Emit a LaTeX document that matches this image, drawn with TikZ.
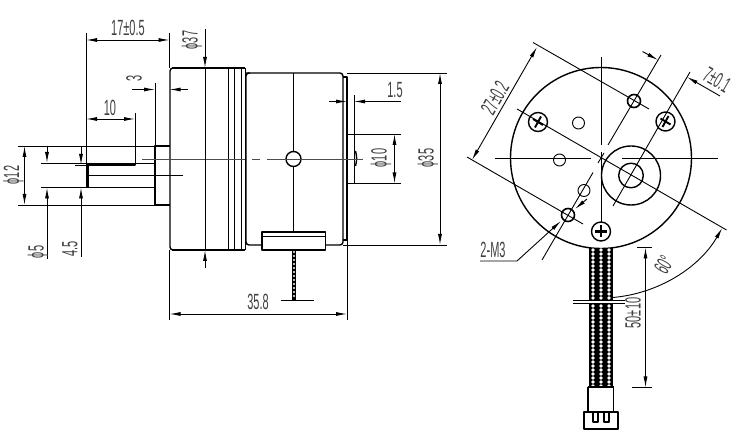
\documentclass[tikz,border=0pt]{standalone}
\usepackage{fontspec}
\setmainfont{Liberation Sans}
\usetikzlibrary{arrows.meta}
\tikzset{
  outl/.style={line width=1.4pt,line join=round},
  thin line/.style={line width=.9pt},
  ctr/.style={line width=.8pt,black!70},
  dim/.style={line width=.9pt,{Latex[length=11pt,width=4pt]}-{Latex[length=11pt,width=4pt]}},
  lead/.style={line width=.9pt,-{Latex[length=11pt,width=4pt]}},
  dimtxt/.style={font=\fontsize{22}{22}\selectfont,xscale=.5,inner sep=0pt,text=black!75},
}
\begin{document}
\begin{tikzpicture}[x=1pt,y=-1pt]
\useasboundingbox (0,0) rectangle (737,446);

% front block
\draw[outl] (172,68) -- (245,68) (172,250) -- (245,250);
\draw[outl,rounded corners=3pt] (175,68) -- (170,68) -- (170,250) -- (175,250);
\draw[thin line] (228,68) -- (228,250) (234,68) -- (234,250) (241,68) -- (241,250) (245,68) -- (245,250);

% flange and shaft
\draw[outl] (169.5,146) -- (155,146) -- (155,205) -- (169.5,205);
\draw[outl] (87,165) -- (135,165) -- (135,163.5) -- (155,163.5);
\draw[outl] (87,187.5) -- (155,187.5);
\draw[line width=2.2pt] (87.5,165) -- (87.5,187.5);

% rear body
\draw[outl,rounded corners=3pt] (246,73) -- (343,73) -- (343,245) -- (325.5,245);
\draw[outl,rounded corners=3pt] (262,245) -- (246,245) -- (246,73) -- (250,73);
\draw[outl] (343,77) -- (347,77) -- (347,240) -- (343,240);
\draw[thin line] (347,134) -- (401,134) (347,183.5) -- (401,183.5);
\draw[thin line] (354,95) -- (354,183.5);
\draw[line width=1.4pt] (355.5,151) to[bend left=15] (355.5,166);

% lead block with wire
\draw[outl] (293.5,73) -- (293.5,151.5) (293.5,166.5) -- (293.5,232);
\draw[outl] (293.5,159) circle (7.5);
\draw[outl] (262,232) rectangle (325.5,250);
\draw[outl] (262,236.5) -- (325.5,236.5);
\draw[line width=4.8pt] (294,250) -- (294,300);
\foreach \y in {252,256,...,298} \fill[white] (294,\y) circle (1.2);
\draw[thin line] (281,300) -- (313.5,300);

% center lines, side view
\draw[ctr] (142,159) -- (237,159) (268,159) -- (363,159);
\draw[ctr,dash pattern=on 8pt off 7pt] (237,159) -- (268,159);
\draw[thin line] (88,175) -- (183,175);

% dimensions, side view
\draw[thin line] (86,33) -- (86,187.5);
\draw[thin line] (169.5,33) -- (169.5,68);
\draw[dim] (86,40) -- (169.5,40);
\node[dimtxt] (lenA) at (128,28) {17±0.5};
\draw[thin line] (155,83) -- (155,146);
\draw[lead] (132,89.5) -- (155,89.5);
\draw[lead] (188,89.5) -- (169.5,89.5);
\node[rotate=90,dimtxt] (lenB) at (134,78) {3};
\draw[thin line] (135,113) -- (135,164);
\draw[dim] (86,119) -- (135,119);
\node[dimtxt] (lenC) at (110,108) {10};
\draw[thin line] (205,68) -- (205,250);
\draw[lead] (205,29) -- (205,68);
\draw[lead] (205,268) -- (205,250);
\node[rotate=90,dimtxt] (diaA) at (192,40) {ϕ37};
\draw[thin line] (18,146) -- (155,146) (18,205) -- (155,205);
\draw[dim] (24.5,146) -- (24.5,205);
\node[rotate=90,dimtxt] (diaB) at (13.5,175) {ϕ12};
\draw[thin line] (41,163) -- (155,163) (41,187.5) -- (88,187.5) (75,165) -- (88,165);
\draw[lead] (47,146) -- (47,163);
\draw[lead] (47,259) -- (47,187.5);
\node[rotate=90,dimtxt] (diaC) at (38,252) {ϕ5};
\draw[lead] (81,147) -- (81,165);
\draw[lead] (81,257) -- (81,187.5);
\node[rotate=90,dimtxt] (lenD) at (70,249) {4.5};
\draw[thin line] (347,73) -- (447,73) (343,245) -- (447,245);
\draw[dim] (440,73) -- (440,245);
\node[rotate=90,dimtxt] (diaD) at (428,158) {ϕ35};
\draw[dim] (394.5,134) -- (394.5,183.5);
\node[rotate=90,dimtxt] (diaE) at (381,158) {ϕ10};
\draw[lead] (329,101.5) -- (347,101.5);
\draw[lead] (401,101.5) -- (354,101.5);
\node[dimtxt] (lenE) at (395,90) {1.5};
\draw[thin line] (169.5,250) -- (169.5,320) (347,240) -- (347,320);
\draw[dim] (169.5,314) -- (347,314);
\node[dimtxt] (lenF) at (258,302) {35.8};

% end view
\draw[line width=1.4pt] (601,158) circle (90.5);
\draw[thin line] (495,158) -- (591,158) (622,158) -- (718,158);
\draw[thin line] (601,57) -- (601,145) (601,152) -- (601,222);
\draw[thin line] (598,163) -- (604,153);
\draw[outl] (631,175.5) circle (29.5);
\draw[outl] (631,175.5) circle (12.3);
\draw[thin line] (578.5,123) circle (6);
\draw[thin line] (559.5,160) circle (6);
\draw[thin line] (584,190.5) circle (6);

% screws and tapped holes
\draw[line width=1.4pt] (538,122) circle (9.5);
\draw[line width=1.9pt] (533,119) -- (543,125) (535,127.5) -- (541,116.5);
\draw[line width=1.4pt] (665.5,121.5) circle (9.5);
\draw[line width=1.9pt] (660.5,118.5) -- (670.5,124.5) (662.5,127) -- (668.5,116);
\draw[line width=1.4pt] (601,231.5) circle (9.5);
\draw[line width=2.4pt] (595,231.5) -- (607,231.5) (601,225.5) -- (601,237.5);
\draw[line width=1.6pt] (634,101) circle (6.5);
\draw[line width=1.6pt] (568,215) circle (6.5);

% angled center lines
\draw[thin line] (517,109) -- (726.5,230);
\draw[thin line] (533,42.5) -- (649,109);
\draw[thin line] (467,157) -- (583,224);
\draw[thin line] (661,55) -- (608,145);
\draw[thin line] (690,72) -- (613,206);
\draw[thin line] (593,172.5) -- (542,260);

% dimensions, end view
\draw[dim] (537,47) -- (472,160);
\node[rotate=60,dimtxt] (lenG) at (495,98) {27±0.2};
\draw[lead] (642.5,51.5) -- (658,60);
\draw[lead] (720,96) -- (687,77);
\node[rotate=-30,dimtxt] (lenH) at (717,80) {7±0.1};
\draw[line width=.9pt,{Latex[length=11pt,width=4pt]}-] (722.2,228) arc[start angle=-30,end angle=-85,radius=140pt];
\node[rotate=60,dimtxt] (angA) at (664,265) {60°};
\draw[lead] (587,199) -- (575,209);
\draw[lead] (480,261) -- (517,261) -- (561,221);
\node[dimtxt] (holeA) at (493,250) {2-M3};

% cable
\draw[line width=7.4pt] (593,248) -- (593,387);
\draw[line width=7.4pt] (601,248) -- (601,387);
\draw[line width=7.4pt] (609,248) -- (609,387);
\foreach \x in {593,601,609}
  \foreach \y in {250,254,...,386} \fill[white] (\x,\y) circle (1.9);
\fill[white] (572,300) rectangle (626,303);
\draw[line width=.8pt] (573,300) -- (625,300) (573,303) -- (625,303);

% connector
\draw[outl] (588,387) -- (588,412) (588,387) -- (613.5,387);
\draw[line width=1.8pt] (613.5,387) -- (613.5,412);
\draw[outl] (584,412) rectangle (618,429);
\draw[outl] (593,412) -- (593,422) -- (598,422) -- (598,412);
\draw[outl] (604,412) -- (604,422) -- (609,422) -- (609,412);

% cable length
\draw[thin line] (637,247.5) -- (652,247.5) (632,387.5) -- (652,387.5);
\draw[dim] (645.5,247.5) -- (645.5,387.5);
\node[rotate=90,dimtxt] (lenJ) at (633,313) {50±10};
\end{tikzpicture}
\end{document}
